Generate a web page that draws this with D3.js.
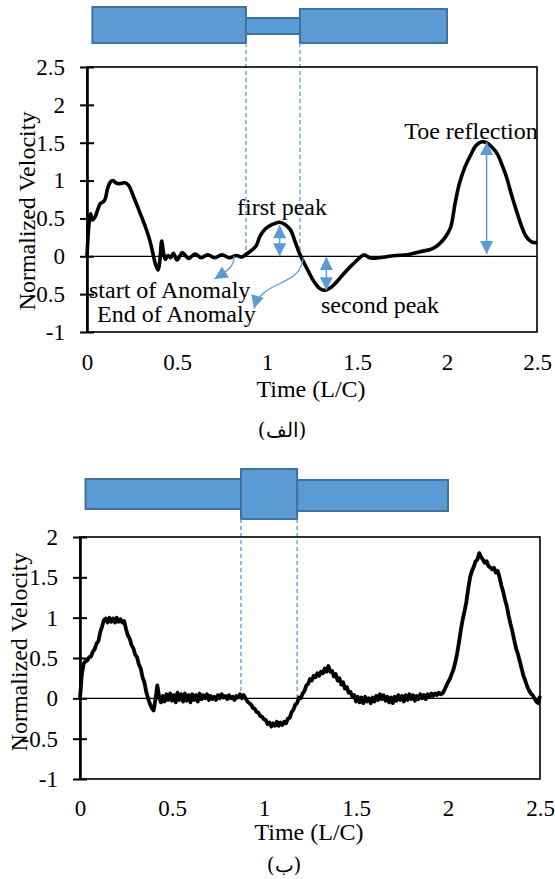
<!DOCTYPE html>
<head>
  <meta charset="utf-8">
  <title>Normalized Velocity</title>
  <script src="https://d3js.org/d3.v7.min.js"></script>
</head>
<body style="margin:0;background:#fff">
  <script>
    var xTicks = [0, 0.5, 1, 1.5, 2, 2.5];
    var yTicksTop = [-1, -0.5, 0, 0.5, 1, 1.5, 2, 2.5];
    var yTicksBottom = [-1, -0.5, 0, 0.5, 1, 1.5, 2];

    // chart (a): smooth response, [time, velocity]
    var topCurve = [
      [0, 0], [0.012, 0.45], [0.02, 0.56], [0.03, 0.48], [0.045, 0.52], [0.06, 0.62],
      [0.075, 0.7], [0.09, 0.72], [0.1, 0.75], [0.115, 0.9], [0.13, 0.98], [0.145, 1.0],
      [0.16, 0.97], [0.18, 0.96], [0.21, 0.97], [0.23, 0.94], [0.26, 0.78], [0.29, 0.6],
      [0.31, 0.48], [0.33, 0.35], [0.35, 0.2], [0.365, 0.05], [0.38, -0.1], [0.395, -0.18],
      [0.405, -0.05], [0.415, 0.2], [0.425, 0.05], [0.435, -0.04], [0.45, 0.01], [0.465, -0.02],
      [0.48, 0.04], [0.5, -0.05], [0.515, 0.0], [0.53, 0.05], [0.55, 0.0], [0.565, -0.03],
      [0.6, 0.03], [0.635, -0.02], [0.67, 0.02], [0.71, -0.02], [0.75, 0.02], [0.79, -0.02],
      [0.83, 0.01], [0.86, -0.01], [0.88, 0.02], [0.91, 0.07], [0.94, 0.14], [0.96, 0.26],
      [0.99, 0.36], [1.03, 0.42], [1.07, 0.45], [1.1, 0.42], [1.13, 0.35], [1.155, 0.2],
      [1.18, 0.04], [1.2, -0.06], [1.23, -0.2], [1.26, -0.33], [1.29, -0.42], [1.32, -0.45],
      [1.35, -0.42], [1.39, -0.33], [1.43, -0.22], [1.47, -0.12], [1.51, -0.03], [1.54, 0.02],
      [1.57, -0.02], [1.62, -0.02], [1.68, 0.0], [1.72, 0.01], [1.78, 0.02], [1.85, 0.06],
      [1.92, 0.1], [1.96, 0.17], [1.99, 0.25], [2.02, 0.38], [2.045, 0.7], [2.07, 0.97],
      [2.1, 1.18], [2.13, 1.33], [2.16, 1.46], [2.19, 1.51], [2.22, 1.5], [2.25, 1.44],
      [2.28, 1.35], [2.31, 1.18], [2.33, 1.05], [2.36, 0.8], [2.39, 0.57], [2.42, 0.36],
      [2.44, 0.26], [2.47, 0.19], [2.5, 0.18]
    ];

    // chart (b): noisy response sampled every 0.01 L/C from t = 0
    var bottomStep = 0.01;
    var bottomValues = [
      0, 0.30, 0.43, 0.46, 0.47, 0.51, 0.52, 0.58, 0.61, 0.68,
      0.71, 0.82, 0.89, 0.97, 0.99, 0.94, 1.0, 0.95, 0.99, 0.94,
      1.0, 0.95, 0.98, 0.94, 0.96, 0.86, 0.78, 0.74, 0.66, 0.62,
      0.54, 0.51, 0.42, 0.37, 0.26, 0.20, 0.08, 0.0, -0.07, -0.12,
      -0.15, -0.02, 0.16, 0.02, -0.05, 0.03, -0.04, 0.05, -0.02, 0.06,
      -0.03, 0.04, -0.05, 0.07, -0.02, 0.05, -0.04, 0.06, -0.03, 0.04,
      -0.05, 0.05, -0.02, 0.04, -0.04, 0.06, -0.01, 0.04, 0.0, 0.05,
      -0.02, 0.03, -0.01, 0.02, -0.02, 0.04, 0.0, 0.05, 0.01, 0.03,
      -0.01, 0.04, 0.0, 0.02, -0.02, 0.03, 0.01, 0.05, 0.0, 0.04,
      0.0, -0.04, -0.06, -0.08, -0.12, -0.13, -0.17, -0.18, -0.22, -0.23,
      -0.26, -0.27, -0.32, -0.30, -0.35, -0.31, -0.34, -0.29, -0.34, -0.30,
      -0.33, -0.29, -0.31, -0.25, -0.24, -0.17, -0.14, -0.08, -0.06, 0.01,
      0.0, 0.06, 0.09, 0.16, 0.18, 0.24, 0.22, 0.28, 0.26, 0.31,
      0.28, 0.33, 0.31, 0.37, 0.33, 0.40, 0.33, 0.34, 0.27, 0.30,
      0.22, 0.25, 0.17, 0.20, 0.12, 0.14, 0.07, 0.08, 0.02, 0.04,
      -0.04, 0.02, -0.05, 0.01, -0.06, 0.02, -0.04, 0.0, -0.06, 0.01,
      -0.04, 0.03, -0.02, 0.05, -0.01, 0.04, -0.03, 0.02, -0.05, 0.01,
      -0.06, 0.02, -0.03, 0.04, -0.02, 0.03, -0.04, 0.04, -0.02, 0.05,
      -0.01, 0.04, -0.03, 0.03, -0.01, 0.05, 0.0, 0.04, -0.01, 0.05,
      0.02, 0.06, 0.03, 0.06, 0.04, 0.07, 0.05, 0.06, 0.10, 0.15,
      0.20, 0.24, 0.30, 0.36, 0.45, 0.56, 0.70, 0.85, 0.98, 1.08,
      1.20, 1.36, 1.50, 1.58, 1.63, 1.70, 1.72, 1.80, 1.75, 1.72,
      1.68, 1.70, 1.64, 1.62, 1.60, 1.62, 1.56, 1.58, 1.50, 1.40,
      1.32, 1.22, 1.14, 1.02, 0.92, 0.83, 0.72, 0.62, 0.55, 0.46,
      0.37, 0.28, 0.22, 0.15, 0.10, 0.06, 0.04, 0.0, -0.04, -0.06,
      0.03
    ];

    // pipe sketch: pipe runs from pipeSpan[0] to pipeSpan[1], anomaly between the marks
    var pipeSpan = [0.03, 2.0];
    var anomalyTop = [0.883, 1.183];
    var anomalyBottom = [0.875, 1.18];

    // annotation arrows on chart (a): [time, from, to]
    var peakArrows = [[1.07, 0.0, 0.41], [1.33, -0.01, -0.45], [2.22, 0.03, 1.51]];
    var startArrow = [[0.817, 0.0], [0.817, -0.15], [0.775, -0.2], [0.708, -0.3]];
    var endArrow = [[1.201, -0.02], [1.185, -0.42], [0.974, -0.29], [0.928, -0.69]];

    var blue = '#5b9bd5';
    var serif = 'Liberation Serif';
    var width = 555, height = 879;

    var svg = d3.select('body').append('svg')
      .attr('width', width).attr('height', height);

    var defs = svg.append('defs');
    defs.append('marker')
      .attr('id', 'head')
      .attr('viewBox', '0 0 10 10')
      .attr('refX', 10).attr('refY', 5)
      .attr('markerUnits', 'userSpaceOnUse')
      .attr('markerWidth', 14).attr('markerHeight', 13)
      .attr('orient', 'auto')
      .append('path').attr('d', 'M0,0L10,5L0,10z').attr('fill', blue);

    function drawChart(o) {
      var x = d3.scaleLinear().domain([0, 2.5]).range([o.left, o.right]);
      var y = d3.scaleLinear().domain([-1, o.ymax]).range([o.bottom, o.top]);
      var g = svg.append('g');

      // pipe sketch
      var pipes = [
        [pipeSpan[0], o.anomaly[0]].concat(o.pipeLeft),
        [o.anomaly[0], o.anomaly[1]].concat(o.pipeMid),
        [o.anomaly[1], pipeSpan[1]].concat(o.pipeRight)
      ];
      g.selectAll('rect.pipe')
        .data(pipes)
        .enter()
        .append('rect')
        .attr('class', 'pipe')
        .attr('x', function(d) {return x(d[0]);})
        .attr('width', function(d) {return x(d[1]) - x(d[0]);})
        .attr('y', function(d) {return d[2];})
        .attr('height', function(d) {return d[3] - d[2];})
        .attr('fill', blue)
        .attr('stroke', '#41719c')
        .attr('stroke-width', 2);

      g.selectAll('line.mark')
        .data(o.anomaly)
        .enter()
        .append('line')
        .attr('x1', function(d) {return x(d);})
        .attr('x2', function(d) {return x(d);})
        .attr('y1', o.dashTop)
        .attr('y2', y(0))
        .attr('stroke', blue)
        .attr('stroke-width', 1.3)
        .attr('stroke-dasharray', '4,3');

      // frame
      g.append('rect')
        .attr('x', o.left).attr('y', o.top)
        .attr('width', o.right - o.left).attr('height', o.bottom - o.top)
        .attr('fill', 'none').attr('stroke', '#000').attr('stroke-width', 1.6);

      g.append('line')
        .attr('x1', x(0)).attr('x2', x(2.5))
        .attr('y1', y(0)).attr('y2', y(0))
        .attr('stroke', '#000').attr('stroke-width', 1.3);

      var ax = g.append('g')
        .attr('transform', 'translate(' + o.left + ',0)')
        .call(d3.axisLeft(y).tickValues(o.yTicks).tickSizeInner(7).tickSizeOuter(0)
          .tickPadding(15).tickFormat(function(d) {return String(d);}));
      ax.attr('font-family', serif).attr('font-size', 23);
      ax.select('.domain').attr('stroke-width', 2.6);
      ax.selectAll('.tick line').attr('x1', 7).attr('stroke-width', 2);

      var bx = g.append('g')
        .attr('transform', 'translate(0,' + o.bottom + ')')
        .call(d3.axisBottom(x).tickValues(xTicks).tickSize(0).tickPadding(o.xPad)
          .tickFormat(function(d) {return String(d);}));
      bx.attr('font-family', serif).attr('font-size', 23);
      bx.select('.domain').remove();

      g.append('path')
        .datum(o.data)
        .attr('d', d3.line()
          .x(function(d) {return x(d[0]);})
          .y(function(d) {return y(d[1]);})
          .curve(o.curve))
        .attr('fill', 'none')
        .attr('stroke', '#000')
        .attr('stroke-width', o.lineWidth)
        .attr('stroke-linejoin', 'round');

      g.append('text')
        .attr('x', o.xTitle[0]).attr('y', o.xTitle[1])
        .attr('text-anchor', 'middle').attr('font-size', 24)
        .attr('font-family', serif)
        .text('Time (L/C)');

      g.append('text')
        .attr('transform', 'translate(' + o.yTitle[0] + ',' + o.yTitle[1] + ') rotate(-90)')
        .attr('text-anchor', 'middle').attr('font-size', 24)
        .attr('font-family', serif)
        .text('Normalized Velocity');

      g.append('text')
        .attr('x', o.caption[0]).attr('y', o.caption[1])
        .attr('text-anchor', 'middle').attr('font-size', 20)
        .attr('font-family', 'DejaVu Serif')
        .text(o.captionText);

      return {x: x, y: y, g: g};
    }

    var a = drawChart({
      left: 87, right: 537, top: 67, bottom: 332, ymax: 2.5,
      yTicks: yTicksTop, xPad: 22, data: topCurve, curve: d3.curveCatmullRom, lineWidth: 3.6,
      anomaly: anomalyTop, pipeLeft: [7, 43], pipeMid: [18, 34], pipeRight: [9, 43], dashTop: 43,
      xTitle: [311, 397], yTitle: [35, 211], caption: [282, 437], captionText: '(الف)'
    });

    drawChart({
      left: 80, right: 540, top: 537, bottom: 779, ymax: 2,
      yTicks: yTicksBottom, xPad: 21,
      data: bottomValues.map(function(v, i) {return [i * bottomStep, v];}),
      curve: d3.curveLinear, lineWidth: 3.8,
      anomaly: anomalyBottom, pipeLeft: [479, 509], pipeMid: [469, 519], pipeRight: [480, 511], dashTop: 519,
      xTitle: [309, 840], yTitle: [27, 652], caption: [284, 872], captionText: '(ب)'
    });

    // annotations on chart (a)
    var ag = a.g.append('g');
    peakArrows.forEach(function(p) {
      var px = a.x(p[0]), y1 = a.y(p[1]), y2 = a.y(p[2]);
      var mid = (y1 + y2) / 2;
      ag.append('line').attr('x1', px).attr('x2', px).attr('y1', mid).attr('y2', y1)
        .attr('stroke', blue).attr('stroke-width', 1.5).attr('marker-end', 'url(#head)');
      ag.append('line').attr('x1', px).attr('x2', px).attr('y1', mid).attr('y2', y2)
        .attr('stroke', blue).attr('stroke-width', 1.5).attr('marker-end', 'url(#head)');
    });

    [startArrow, endArrow].forEach(function(c) {
      var p = c.map(function(d) {return [a.x(d[0]), a.y(d[1])];});
      ag.append('path')
        .attr('d', 'M' + p[0] + 'C' + p[1] + ' ' + p[2] + ' ' + p[3])
        .attr('fill', 'none').attr('stroke', blue).attr('stroke-width', 1.3)
        .attr('marker-end', 'url(#head)');
    });

    var notes = [
      ['first peak', 282, 215, 'middle'],
      ['second peak', 321, 313, 'start'],
      ['start of Anomaly', 89, 298, 'start'],
      ['End of Anomaly', 97, 322, 'start'],
      ['Toe reflection', 471, 139, 'middle']
    ];
    ag.selectAll('text.note')
      .data(notes)
      .enter()
      .append('text')
      .attr('x', function(d) {return d[1];})
      .attr('y', function(d) {return d[2];})
      .attr('text-anchor', function(d) {return d[3];})
      .attr('font-family', serif)
      .attr('font-size', 24)
      .text(function(d) {return d[0];});
  </script>
</body>
